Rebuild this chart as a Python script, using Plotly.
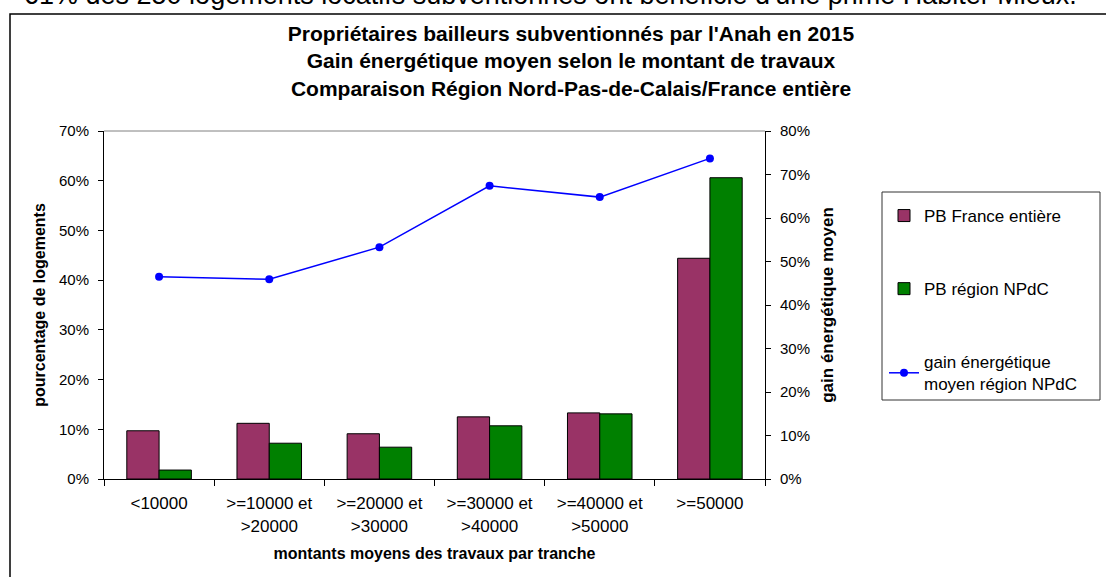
import plotly.graph_objects as go

categories = ["&lt;10000", "&gt;=10000 et<br>&gt;20000", "&gt;=20000 et<br>&gt;30000",
              "&gt;=30000 et<br>&gt;40000", "&gt;=40000 et<br>&gt;50000", "&gt;=50000"]
france = [0.097, 0.112, 0.091, 0.125, 0.133, 0.444]
npdc = [0.018, 0.072, 0.064, 0.107, 0.131, 0.606]
gain = [0.465, 0.459, 0.533, 0.674, 0.648, 0.737]

W, H = 1106, 577
L, R, T, B = 104, 765, 131, 479
def px(x):
    return (x - L) / (R - L)
def py(y):
    return 1 - (y - T) / (B - T)

FONT = "Liberation Sans, Arial, sans-serif"

fig = go.Figure()
fig.add_trace(go.Bar(x=categories, y=france, name="PB France entière", legendgroup="a",
                     marker=dict(color="#993366", line=dict(color="black", width=1))))
fig.add_trace(go.Bar(x=categories, y=npdc, name="PB région NPdC", legendgroup="b",
                     marker=dict(color="#008000", line=dict(color="black", width=1))))
fig.add_trace(go.Scatter(x=categories, y=gain, name="gain énergétique<br>moyen région NPdC",
                         legendgroup="c", yaxis="y2", mode="lines+markers",
                         line=dict(color="#0000FF", width=1.5),
                         marker=dict(color="#0000FF", size=8)))

fig.update_layout(
    width=W, height=H,
    margin=dict(l=L, r=W - R, t=T, b=H - B, pad=0),
    paper_bgcolor="white", plot_bgcolor="white",
    font=dict(family=FONT, color="black", size=15),
    barmode="group", bargap=0.414, bargroupgap=0,
    title=dict(text="Propriétaires bailleurs subventionnés par l'Anah en 2015<br>"
                    "Gain énergétique moyen selon le montant de travaux<br>"
                    "Comparaison Région Nord-Pas-de-Calais/France entière",
               font=dict(size=21, family=FONT, color="black", weight="bold"),
               xref="paper", x=px(571), xanchor="center",
               yref="container", y=1 - 41 / H, yanchor="top"),
    xaxis=dict(showline=True, linecolor="black", linewidth=1, ticks="outside",
               tickson="boundaries", ticklen=6, tickcolor="black",
               tickfont=dict(size=17), showgrid=False, ticklabelstandoff=9,
               title=dict(text="montants moyens des travaux par tranche",
                          font=dict(size=16, weight="bold"), standoff=13)),
    yaxis=dict(range=[0, 0.7], dtick=0.1, tickformat=".0%", showline=True,
               linecolor="black", linewidth=1, ticks="outside", ticklen=5,
               tickcolor="black", showgrid=False, zeroline=False,
               tickfont=dict(size=15), ticklabelstandoff=6,
               title=dict(text="pourcentage de logements",
                          font=dict(size=16, weight="bold"), standoff=9)),
    yaxis2=dict(range=[0, 0.8], dtick=0.1, tickformat=".0%", overlaying="y",
                side="right", showline=True, linecolor="black", linewidth=1,
                ticks="outside", ticklen=5, tickcolor="black", showgrid=False,
                zeroline=False, tickfont=dict(size=15), ticklabelstandoff=6,
                title=dict(text="gain énergétique moyen",
                           font=dict(size=17, weight="bold"), standoff=12)),
    legend=dict(x=px(884), xanchor="left", y=py(198), yanchor="top",
                bgcolor="rgba(0,0,0,0)", borderwidth=0, tracegroupgap=48,
                font=dict(size=17), traceorder="grouped"),
    showlegend=True,
)

fig.add_shape(type="line", xref="paper", yref="paper", x0=0, x1=1, y0=1, y1=1,
              line=dict(color="#808080", width=1))
fig.add_shape(type="rect", xref="paper", yref="paper", x0=px(882), x1=px(1100),
              y0=py(192), y1=py(400), line=dict(color="#333333", width=1))
fig.add_shape(type="rect", xref="paper", yref="paper", x0=px(10), x1=px(1130),
              y0=py(14), y1=py(620), line=dict(color="black", width=1.5))
fig.add_annotation(text="61% des 250 logements locatifs subventionnés ont bénéficié d'une prime Habiter Mieux.",
                   xref="paper", yref="paper", x=px(22), y=py(12), xanchor="left",
                   yanchor="bottom", showarrow=False, font=dict(size=27, family=FONT))

fig.write_html("out.html", config={"displayModeBar": False},
               post_script="document.body.style.margin='0';")
